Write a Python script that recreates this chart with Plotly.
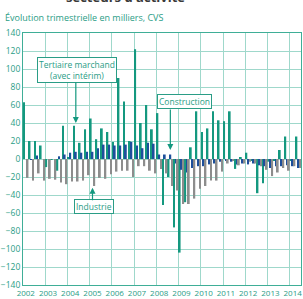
import plotly.graph_objects as go

years = ["2002", "2003", "2004", "2005", "2006", "2007", "2008",
         "2009", "2010", "2011", "2012", "2013", "2014"]

tertiaire = [63, 20, 20, 15,
             -9, -1, -13, 37,
             2, 37, 18, 33,
             45, 22, 34, 30,
             19, 90, 64, 20,
             122, 40, 60, 33,
             51, -51, -20, -76,
             -104, -48, 13, 53,
             30, 34, 53, 43,
             42, 53, -11, 2,
             7, -2, -38, -27,
             -3, -2, 10, 25,
             -2, 25]

construction = [0, -1, 4, 0,
                0, 0, 3, 5,
                7, 8, 7, 8,
                8, 12, 16, 16,
                15, 15, 16, 19,
                15, 12, 18, 17,
                5, 5, 5, -5,
                -12, -15, -10, -8,
                -8, -6, -5, -3,
                -2, -3, -6, -5,
                -6, -5, -7, -8,
                -10, -8, -8, -7,
                -8, -10]

industrie = [-21, -24, -16, -24,
             -22, -23, -26, -28,
             -25, -25, -24, -18,
             -30, -21, -22, -17,
             -14, -13, -13, -20,
             -8, -8, -13, -16,
             -11, -16, -30, -35,
             -50, -50, -44, -33,
             -30, -24, -24, -14,
             -5, -2, -7, -5,
             -3, -5, -8, -12,
             -19, -15, -10, -13,
             -8, -10]

yticks = list(range(-140, 141, 20))

TEAL = "#14987f"
BLUE = "#1d4f9b"
GRAY = "#8d8d8d"
TXT = "#2a9d86"
GRID = "#9fd8cb"
FRAME = "#3fae97"
FONT = "Open Sans"

n = len(tertiaire)
xs = list(range(n))

fig = go.Figure()
fig.add_bar(x=xs, y=tertiaire, marker_color=TEAL, marker_line_width=0, name="Tertiaire")
fig.add_bar(x=xs, y=construction, marker_color=BLUE, marker_line_width=0, name="Construction")
fig.add_bar(x=xs, y=industrie, marker_color=GRAY, marker_line_width=0, name="Industrie")

year_starts = [i * 4 for i in range(len(years))]
bounds = [i * 4 - 0.5 for i in range(len(years) + 1)]

fig.update_layout(
    width=303, height=299,
    margin=dict(l=22, r=1, t=33, b=14),
    paper_bgcolor="white", plot_bgcolor="white",
    barmode="group", bargap=0.04, bargroupgap=0,
    showlegend=False,
    font=dict(family=FONT, color=TXT, size=8),
    xaxis=dict(
        range=[-0.5, n - 0.5],
        tickvals=year_starts, ticktext=years,
        showgrid=False, ticks="", ticklen=0,
        tickfont=dict(size=8, color=TXT),
        ticklabeloverflow="allow",
        showline=True, linecolor=FRAME, linewidth=1, mirror=True,
        zeroline=False,
        minor=dict(tickvals=bounds, showgrid=True, gridcolor=GRID, gridwidth=1, ticks=""),
    ),
    yaxis=dict(
        range=[-140, 140],
        tickvals=yticks,
        showgrid=True, gridcolor=GRID, gridwidth=1,
        zeroline=True, zerolinecolor=GRID, zerolinewidth=1,
        tickfont=dict(size=8.5, color=TXT),
        showline=True, linecolor=FRAME, linewidth=1, mirror=True,
        ticks="", ticklen=0,
    ),
)

# title (partly cut off at top, as in the reference) and subtitle
fig.add_annotation(text="<b>secteurs d'activité</b>", xref="paper", yref="paper",
                   x=(125 - 22) / 280, y=(285 + 3) / 252, xanchor="center", yanchor="middle",
                   showarrow=False, font=dict(size=13, color="#3a3a3a", family=FONT))
fig.add_annotation(text="Évolution trimestrielle en milliers, CVS", xref="paper", yref="paper",
                   x=-20 / 280, y=(285 - 17) / 252, xanchor="left", yanchor="middle",
                   showarrow=False, font=dict(size=9, color=TXT, family=FONT))

box = dict(showarrow=False, bgcolor="white", bordercolor=TXT, borderwidth=1, borderpad=1,
           font=dict(size=8.5, color=TXT, family=FONT))

# Tertiaire marchand label + arrow
fig.add_annotation(text="Tertiaire marchand<br>(avec intérim)", xref="x", yref="y",
                   x=9.2, y=99, **box)
fig.add_annotation(text="", x=9, y=tertiaire[9] + 3, xref="x", yref="y",
                   ax=0, ay=-42, showarrow=True, arrowhead=2, arrowsize=1,
                   arrowwidth=1.2, arrowcolor=TEAL)

# Construction label + arrow
fig.add_annotation(text="Construction", xref="x", yref="y", x=28.5, y=64, **box)
fig.add_annotation(text="", x=26, y=construction[26] + 5, xref="x", yref="y",
                   ax=0, ay=-42, showarrow=True, arrowhead=2, arrowsize=1,
                   arrowwidth=1.2, arrowcolor=TEAL)

# Industrie label + arrow
fig.add_annotation(text="Industrie", xref="x", yref="y", x=12.3, y=-53, **box)
fig.add_annotation(text="", x=12, y=industrie[12] - 2, xref="x", yref="y",
                   ax=0, ay=14, showarrow=True, arrowhead=2, arrowsize=1,
                   arrowwidth=1.2, arrowcolor=TEAL)

fig.write_html("out.html")
